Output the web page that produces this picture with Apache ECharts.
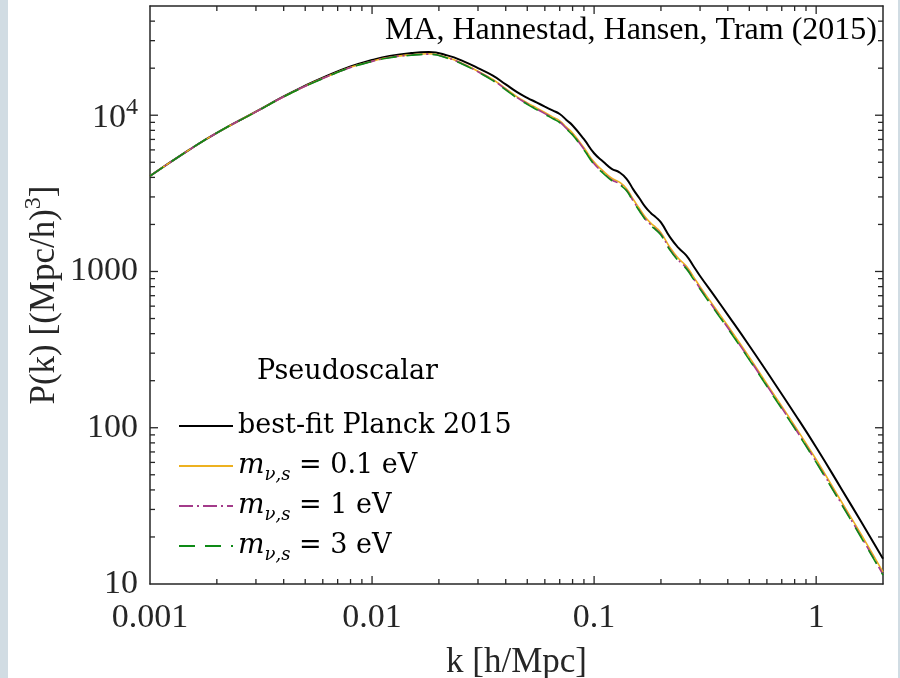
<!DOCTYPE html>
<html>
<head>
<meta charset="utf-8">
<script src="https://cdn.jsdelivr.net/npm/echarts@6/dist/echarts.min.js"></script>
<style>
  html, body { margin: 0; padding: 0; background: #d1dce3; width: 900px; height: 678px; overflow: hidden; }
  #chart { position: absolute; left: 8px; top: 0; width: 890px; height: 678px; background: #ffffff; }
</style>
</head>
<body>
<div id="chart"></div>
<script>
// Wavenumbers k [h/Mpc]
const kValues = [0.001, 0.0015, 0.002, 0.003, 0.004, 0.005, 0.006, 0.008, 0.01, 0.012,
  0.015, 0.018, 0.022, 0.026, 0.03, 0.035, 0.04, 0.045, 0.05, 0.055,
  0.06, 0.065, 0.07, 0.075, 0.08, 0.09, 0.1, 0.11, 0.12, 0.13,
  0.14, 0.15, 0.16, 0.17, 0.18, 0.19, 0.2, 0.22, 0.24, 0.26,
  0.28, 0.3, 0.35, 0.4, 0.5, 0.6, 0.8, 1.0, 1.3, 1.6, 2.0];

// Matter power spectra P(k) [(Mpc/h)^3]
const pBestFit = [4083, 6000, 7710, 10540, 13180, 15450, 17380, 20510, 22540, 23930,
  25000, 25350, 24060, 22030, 20000, 17920, 15750, 14050, 12930, 12080,
  11350, 10730, 10180, 9330, 8600, 7020, 5710, 5040, 4540, 4310,
  3920, 3355, 2940, 2590, 2370, 2220, 2060, 1652, 1416, 1267,
  1084, 936, 690, 528, 335, 228, 123, 75.0, 40.6, 24.8, 14.5];
const pMass01 = [4083, 6000, 7710, 10530, 13130, 15350, 17230, 20250, 22180, 23480,
  24380, 24720, 23330, 21210, 19130, 16940, 14800, 13110, 11990, 11140,
  10400, 9760, 9210, 8390, 7680, 6190, 5010, 4390, 3950, 3730,
  3390, 2900, 2530, 2230, 2040, 1910, 1770, 1421, 1211, 1084,
  927, 800, 586, 449, 283, 191, 103, 62.6, 33.6, 20.6, 11.9];
const pMass1 = [4083, 6000, 7710, 10510, 13120, 15340, 17200, 20210, 22110, 23410,
  24270, 24610, 23190, 21080, 18990, 16770, 14640, 12950, 11840, 10980,
  10240, 9610, 9050, 8230, 7530, 6060, 4890, 4290, 3860, 3640,
  3310, 2830, 2460, 2170, 1990, 1860, 1730, 1380, 1180, 1054,
  902, 779, 570, 436, 275, 186, 100, 60.6, 32.6, 19.9, 11.5];
const pMass3 = [4083, 6000, 7710, 10500, 13100, 15310, 17160, 20170, 22060, 23350,
  24200, 24530, 23100, 20980, 18880, 16660, 14530, 12850, 11740, 10880,
  10140, 9520, 8960, 8150, 7460, 6000, 4840, 4250, 3820, 3600,
  3280, 2800, 2440, 2150, 1970, 1840, 1710, 1365, 1168, 1043,
  893, 771, 564, 432, 272, 184, 99, 60.0, 32.3, 19.7, 11.4];

// Axis ticks and labels
const xLabelValues = [0.001, 0.01, 0.1, 1];
const xLabelTexts = ['0.001', '0.01', '0.1', '1'];
const yLabelValues = [10, 100, 1000, 10000];
const yLabelTexts = ['10', '100', '1000', '{b|10}{s|4}'];
const xMajorTicks = [0.01, 0.1, 1];
const xMinorTicks = [0.002, 0.003, 0.004, 0.005, 0.006, 0.007, 0.008, 0.009,
  0.02, 0.03, 0.04, 0.05, 0.06, 0.07, 0.08, 0.09,
  0.2, 0.3, 0.4, 0.5, 0.6, 0.7, 0.8, 0.9];
const yMajorTicks = [100, 1000, 10000];
const yMinorTicks = [20, 30, 40, 50, 60, 70, 80, 90,
  200, 300, 400, 500, 600, 700, 800, 900,
  2000, 3000, 4000, 5000, 6000, 7000, 8000, 9000,
  20000, 30000, 40000];

const seriesNames = ['best-fit Planck 2015', 'm01', 'm1', 'm3'];
const legendTexts = {
  'best-fit Planck 2015': 'best-fit Planck 2015',
  'm01': '{i|m}{sub|ν,s} = 0.1 eV',
  'm1': '{i|m}{sub|ν,s} = 1 eV',
  'm3': '{i|m}{sub|ν,s} = 3 eV'
};

const FONT = "'Liberation Serif', 'Times New Roman', serif";
const LEGEND_FONT = "'DejaVu Serif', serif";
const AXIS_COLOR = '#262626';

function sameLog(a, b) { return Math.abs(Math.log10(a) - Math.log10(b)) < 1e-6; }
function labelFor(values, texts) {
  return function (v) {
    for (let i = 0; i < values.length; i++) if (sameLog(v, values[i])) return texts[i];
    return '';
  };
}

// Ticks pointing inward on both opposite sides of the frame
function xTickSeries(values, len) {
  return {
    type: 'custom', silent: true, z: 6, clip: false,
    data: values.map(v => [v, 10]),
    renderItem: function (params, api) {
      const cs = params.coordSys;
      const x = api.coord([api.value(0), 10])[0];
      const st = { stroke: AXIS_COLOR, lineWidth: 1.3 };
      return { type: 'group', children: [
        { type: 'line', shape: { x1: x, y1: cs.y + cs.height, x2: x, y2: cs.y + cs.height - len }, style: st },
        { type: 'line', shape: { x1: x, y1: cs.y, x2: x, y2: cs.y + len }, style: st }
      ] };
    }
  };
}
function yTickSeries(values, len) {
  return {
    type: 'custom', silent: true, z: 6, clip: false,
    data: values.map(v => [0.001, v]),
    renderItem: function (params, api) {
      const cs = params.coordSys;
      const y = api.coord([0.001, api.value(1)])[1];
      const st = { stroke: AXIS_COLOR, lineWidth: 1.3 };
      return { type: 'group', children: [
        { type: 'line', shape: { x1: cs.x, y1: y, x2: cs.x + len, y2: y }, style: st },
        { type: 'line', shape: { x1: cs.x + cs.width, y1: y, x2: cs.x + cs.width - len, y2: y }, style: st }
      ] };
    }
  };
}

function curve(name, values, color, width, dash, z) {
  return {
    name: name, type: 'line', showSymbol: false, symbol: 'none', smooth: 0.5, z: z,
    data: kValues.map((k, i) => [k, values[i]]),
    lineStyle: { color: color, width: width, type: dash },
    itemStyle: { color: color },
    emphasis: { disabled: true }
  };
}

const axisLineStyle = { show: true, onZero: false, lineStyle: { color: AXIS_COLOR, width: 1.5 } };

const chart = echarts.init(document.getElementById('chart'), null, { renderer: 'canvas' });
chart.setOption({
  animation: false,
  backgroundColor: '#ffffff',
  title: [
    { text: 'MA, Hannestad, Hansen, Tram (2015)', right: 21, top: 15, padding: 0,
      textStyle: { fontFamily: FONT, fontWeight: 'normal', fontSize: 32, color: '#000' } },
    { text: 'Pseudoscalar', left: 249, top: 358, padding: 0,
      textStyle: { fontFamily: LEGEND_FONT, fontWeight: 'normal', fontSize: 27, color: '#000' } }
  ],
  legend: {
    orient: 'vertical', left: 170, top: 408, padding: 0,
    itemWidth: 54, itemHeight: 14, itemGap: 4,
    itemStyle: { opacity: 0 },
    data: seriesNames,
    selectedMode: false,
    formatter: name => legendTexts[name],
    textStyle: {
      fontFamily: LEGEND_FONT, fontSize: 27, color: '#000', lineHeight: 36,
      rich: {
        i: { fontFamily: LEGEND_FONT, fontStyle: 'italic', fontSize: 28, lineHeight: 36 },
        sub: { fontFamily: LEGEND_FONT, fontStyle: 'italic', fontSize: 18, lineHeight: 22, verticalAlign: 'bottom' }
      }
    }
  },
  grid: { left: 142, right: 15, top: 6, bottom: 94, containLabel: false, outerBoundsMode: 'none' },
  xAxis: [
    { type: 'log', logBase: 10, min: 0.001, max: 2, position: 'bottom',
      axisLine: axisLineStyle, axisTick: { show: false }, splitLine: { show: false },
      axisLabel: { formatter: labelFor(xLabelValues, xLabelTexts), fontFamily: FONT, fontSize: 34, color: AXIS_COLOR, margin: 17 },
      name: 'k [h/Mpc]', nameLocation: 'middle', nameGap: 61,
      nameTextStyle: { fontFamily: FONT, fontSize: 35, color: AXIS_COLOR } },
    { type: 'log', logBase: 10, min: 0.001, max: 2, position: 'top',
      axisLine: axisLineStyle, axisTick: { show: false }, splitLine: { show: false }, axisLabel: { show: false } }
  ],
  yAxis: [
    { type: 'log', logBase: 10, min: 10, max: 50000, position: 'left',
      axisLine: axisLineStyle, axisTick: { show: false }, splitLine: { show: false },
      axisLabel: { formatter: labelFor(yLabelValues, yLabelTexts), fontFamily: FONT, fontSize: 34, color: AXIS_COLOR, margin: 12,
        rich: { b: { fontFamily: FONT, fontSize: 34, color: AXIS_COLOR, lineHeight: 40, verticalAlign: 'bottom' },
                s: { fontFamily: FONT, fontSize: 24, color: AXIS_COLOR, lineHeight: 24, verticalAlign: 'top' } } },
      name: 'P(k) [(Mpc/h){s|3}]', nameLocation: 'middle', nameGap: 82, nameRotate: 90, nameMoveOverlap: false,
      nameTextStyle: { fontFamily: FONT, fontSize: 35, color: AXIS_COLOR, lineHeight: 46,
        rich: { s: { fontFamily: FONT, fontSize: 24, color: AXIS_COLOR, lineHeight: 24, verticalAlign: 'top' } } } },
    { type: 'log', logBase: 10, min: 10, max: 50000, position: 'right',
      axisLine: axisLineStyle, axisTick: { show: false }, splitLine: { show: false }, axisLabel: { show: false } }
  ],
  series: [
    curve('best-fit Planck 2015', pBestFit, '#000000', 2, 'solid', 3),
    curve('m01', pMass01, '#EDB120', 1.6, 'solid', 4),
    curve('m1', pMass1, '#A33B8A', 1.6, [14, 4, 2, 4], 5),
    curve('m3', pMass3, '#0E8A16', 1.6, [16, 10], 5),
    xTickSeries(xMajorTicks, 8),
    xTickSeries(xMinorTicks, 5),
    yTickSeries(yMajorTicks, 8),
    yTickSeries(yMinorTicks, 5)
  ]
});
</script>
</body>
</html>
